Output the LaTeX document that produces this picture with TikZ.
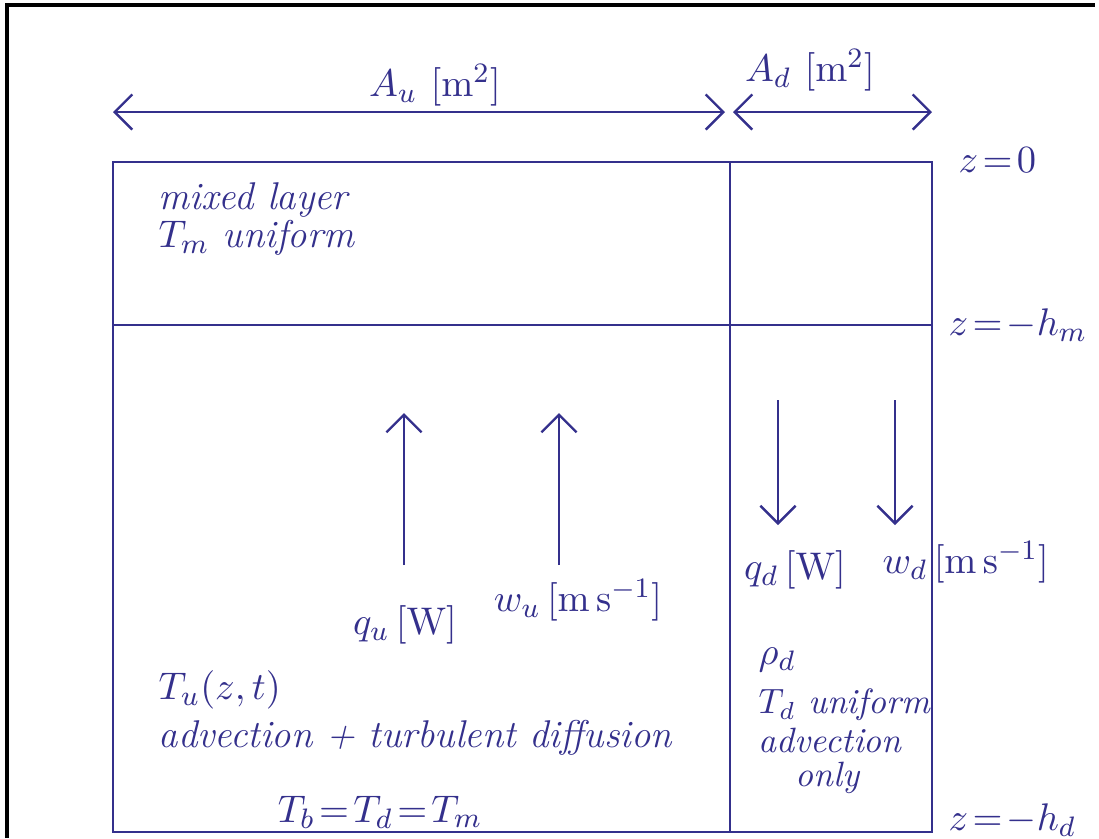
\documentclass[tikz,border=0pt]{standalone}
\usepackage{amsmath}
\usepackage{tikz}
\usetikzlibrary{arrows.meta, positioning}
\definecolor{ink}{RGB}{52, 48, 140}

\begin{document}
\begin{tikzpicture}[x=0.01cm, y=-0.01cm]
        \tikzstyle{hand} = [text=ink, font=\fontsize{11}{13}\selectfont\itshape, inner sep=0pt]
        \tikzstyle{small hand} = [hand, font=\fontsize{10}{12}\selectfont\itshape]
        \tikzstyle{wall} = [draw=ink, line width=0.7pt]
        \tikzstyle{flow} = [draw=ink, line width=0.7pt, -{Straight Barb[length=5pt,width=10pt]}]
        \tikzstyle{span} = [draw=ink, line width=0.7pt, {Straight Barb[length=5pt,width=10pt]}-{Straight Barb[length=5pt,width=10pt]}]

        \useasboundingbox (0,0) rectangle (1099,838);
        \draw [line width=1.1pt] (7,838) -- (7,5) -- (1095,5);

        % basin outline
        \coordinate (tl) at (113,162);
        \coordinate (br) at (932,832);
        \coordinate (divtop) at (730,162);
        \coordinate (divbot) at (730,832);
        \coordinate (mixl) at (113,325);
        \coordinate (mixr) at (932,325);
        \draw [wall] (tl) rectangle (br);
        \draw [wall] (divtop) -- (divbot);
        \draw [wall] (mixl) -- (mixr);

        % widths
        \coordinate (aul) at (113,112);
        \coordinate (aur) at (725,112);
        \coordinate (adl) at (733,112);
        \coordinate (adr) at (932,112);
        \draw [span] (aul) -- (aur);
        \draw [span] (adl) -- (adr);
        \node (au) [hand] at (435,85) {$A_u\ [\mathrm{m}^2]$};
        \node (ad) [hand] at (810,70) {$A_d\ [\mathrm{m}^2]$};

        % depths
        \node (z0) [hand, anchor=west] at (958,160) {$z\!=\!0$};
        \node (zhm) [hand, anchor=west] at (948,325) {$z\!=\!-h_m$};
        \node (zhd) [hand, anchor=west] at (948,820) {$z\!=\!-h_d$};

        % mixed layer
        \node (mixed) [hand, anchor=west] at (158,200) {mixed layer};
        \node (tm) [hand, anchor=west] at (158,238) {$T_m$ uniform};

        % upwelling region
        \node (qu) [hand] at (405,625) {$q_u\,[\mathrm{W}]$};
        \node (wu) [hand] at (578,600) {$w_u\,[\mathrm{m\,s^{-1}}]$};
        \coordinate (qutop) at (404,413);
        \coordinate (wutop) at (559,413);
        \draw [flow] (404,565) -- (qutop);
        \draw [flow] (559,565) -- (wutop);
        \node (tu) [hand, anchor=west] at (158,690) {$T_u(z,t)$};
        \node (adv) [hand, anchor=west] at (158,738) {advection + turbulent diffusion};
        \node (tb) [hand] at (380,812) {$T_b\!=\!T_d\!=\!T_m$};

        % downwelling region
        \node (qd) [hand] at (795,570) {$q_d\,[\mathrm{W}]$};
        \node (wd) [hand, anchor=west] at (882,562) {$w_d\,[\mathrm{m\,s^{-1}}]$};
        \coordinate (qdtop) at (778,400);
        \coordinate (wdtop) at (895,400);
        \draw [flow] (qdtop) -- (778,525);
        \draw [flow] (wdtop) -- (895,525);
        \node (rho) [hand, anchor=west] at (758,660) {$\rho_d$};
        \node (td) [small hand, anchor=west] at (758,705) {$T_d$ uniform};
        \node (advd) [small hand, anchor=west] at (758,740) {advection};
        \node (only) [small hand, anchor=west] at (795,778) {only};
    \end{tikzpicture}
\end{document}
